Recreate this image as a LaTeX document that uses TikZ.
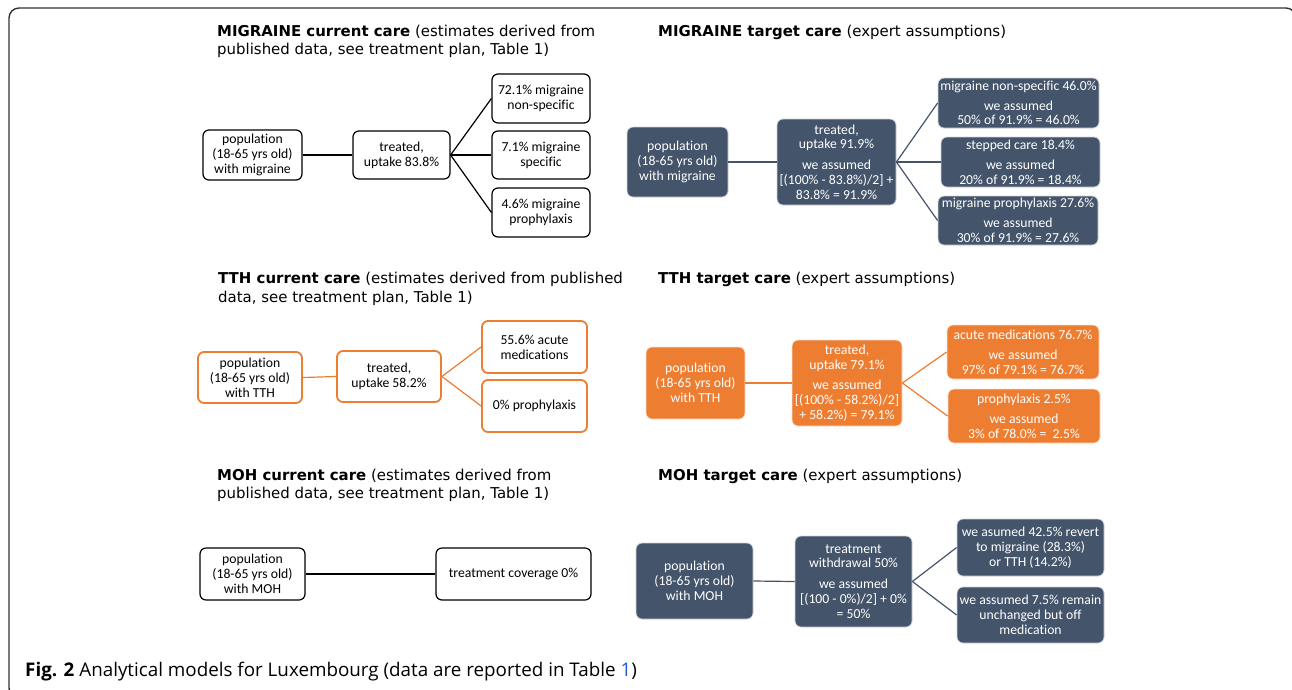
\documentclass[tikz,border=0pt]{standalone}
\usepackage{fontspec}
\setmainfont[Ligatures=NoCommon]{Carlito}
\newfontfamily\ttlfont{DejaVu Sans}
\newfontfamily\capfont{Open Sans}
\definecolor{slate}{HTML}{44546A}
\definecolor{orng}{HTML}{ED7D31}
\definecolor{linkblue}{HTML}{1F5FD6}
\definecolor{framegray}{HTML}{333333}
\tikzset{
  bx/.style={rounded corners=6pt, inner sep=0pt, align=center,
    font=\fontsize{13.7}{14.8}\selectfont},
  cur/.style={bx, draw=black, line width=1.2pt, fill=white},
  curo/.style={bx, draw=orng, line width=1.8pt, fill=white},
  tgt/.style={bx, fill=slate, draw=slate!25, line width=0.8pt, text=white},
  tgto/.style={bx, fill=orng, draw=orng!25, line width=0.8pt, text=white},
  lnk/.style={line width=1.2pt, draw=black},
  lnks/.style={line width=1.2pt, draw=slate},
  lnko/.style={line width=1.2pt, draw=orng},
  ttl/.style={anchor=base west, inner sep=0pt, align=left,
    font=\ttlfont\fontsize{14.95}{18.5}\selectfont},
}
\newcommand\mybox[7]{\node[#6, minimum width={(#4-#2)*1pt}, minimum height={(#5-#3)*1pt}] (#1) at ({(#2+#4)/2},{(#3+#5)/2}) {#7};}
\begin{document}
\begin{tikzpicture}[x=1pt, y=-1pt]
\useasboundingbox (0,0) rectangle (1292,689);
\draw[framegray, line width=1.4pt, rounded corners=10pt] (9,8) rectangle (1296,698);

% titles (base anchor = baseline of last line)
\node[ttl] (t1) at (217,54.5) {\textbf{MIGRAINE current care} (estimates derived from\\published data, see treatment plan, Table 1)};
\node[ttl] (t2) at (658,36) {\textbf{MIGRAINE target care} (expert assumptions)};
\node[ttl] (t3) at (218,302) {\textbf{TTH current care} (estimates derived from published\\data, see treatment plan, Table 1)};
\node[ttl] (t4) at (658,283) {\textbf{TTH target care} (expert assumptions)};
\node[ttl] (t5) at (217,498.5) {\textbf{MOH current care} (estimates derived from\\published data, see treatment plan, Table 1)};
\node[ttl] (t6) at (658,480) {\textbf{MOH target care} (expert assumptions)};

% MIGRAINE current
\mybox{pop1}{203}{130}{302}{180}{cur}{population\\(18-65 yrs old)\\with migraine}
\mybox{trt1}{353}{131}{450}{179}{cur}{treated,\\uptake 83.8\%}
\mybox{a1}{492}{74}{590}{123}{cur}{72.1\% migraine\\non-specific}
\mybox{b1}{492}{131}{590}{179}{cur}{7.1\% migraine\\specific}
\mybox{c1}{492}{188}{590}{237}{cur}{4.6\% migraine\\prophylaxis}
\draw[lnk] (pop1.east) -- (trt1.west);
\draw[lnk] (trt1.east) -- (a1.west);
\draw[lnk] (trt1.east) -- (b1.west);
\draw[lnk] (trt1.east) -- (c1.west);

% MIGRAINE target
\mybox{pop2}{627}{127}{728}{197}{tgt}{population\\(18-65 yrs old)\\with migraine}
\mybox{trt2}{777}{119}{896}{205}{tgt}{treated,\\uptake 91.9\%\\[6pt]we assumed\\{[}(100\% - 83.8\%)/2{]} +\\83.8\% = 91.9\%}
\mybox{a2}{938}{78}{1099}{128}{tgt}{migraine non-specific 46.0\%\\[5pt]we assumed\\50\% of 91.9\% = 46.0\%}
\mybox{b2}{941}{137}{1100}{187}{tgt}{stepped care 18.4\%\\[5pt]we assumed\\20\% of 91.9\% = 18.4\%}
\mybox{c2}{938}{196}{1098}{245}{tgt}{migraine prophylaxis 27.6\%\\[5pt]we assumed\\30\% of 91.9\% = 27.6\%}
\draw[lnks] (pop2.east) -- (trt2.west);
\draw[lnks] (trt2.east) -- (a2.west);
\draw[lnks] (trt2.east) -- (b2.west);
\draw[lnks] (trt2.east) -- (c2.west);

% TTH current
\mybox{pop3}{198}{352}{302}{403}{curo}{population\\(18-65 yrs old)\\with TTH}
\mybox{trt3}{337}{351}{441}{402}{curo}{treated,\\uptake 58.2\%}
\mybox{a3}{482}{321}{587}{373}{curo}{55.6\% acute\\medications}
\mybox{b3}{482}{380}{587}{432}{curo}{0\% prophylaxis}
\draw[lnko] (pop3.east) -- (trt3.west);
\draw[lnko] (trt3.east) -- (a3.west);
\draw[lnko] (trt3.east) -- (b3.west);

% TTH target
\mybox{pop4}{646}{347}{745}{419}{tgto}{population\\(18-65 yrs old)\\with TTH}
\mybox{trt4}{792}{340}{902}{426}{tgto}{treated,\\uptake 79.1\%\\[6pt]we assumed\\{[}(100\% - 58.2\%)/2{]}\\+ 58.2\%) = 79.1\%}
\mybox{a4}{947}{325}{1099}{379}{tgto}{acute medications 76.7\%\\[5pt]we assumed\\97\% of 79.1\% = 76.7\%}
\mybox{b4}{948}{389}{1100}{443}{tgto}{prophylaxis 2.5\%\\[5pt]we assumed\\3\% of 78.0\% = \ 2.5\%}
\draw[lnko] (pop4.east) -- (trt4.west);
\draw[lnko] (trt4.east) -- (a4.west);
\draw[lnko] (trt4.east) -- (b4.west);

% MOH current
\mybox{pop5}{200}{548}{305}{600}{cur}{population\\(18-65 yrs old)\\with MOH}
\mybox{trt5}{436}{548}{591}{600}{cur}{treatment coverage 0\%}
\draw[lnk] (pop5.east) -- (trt5.west);

% MOH target
\mybox{pop6}{636}{543}{753}{619}{tgt}{population\\(18-65 yrs old)\\with MOH}
\mybox{trt6}{795}{536}{912}{627}{tgt}{treatment\\withdrawal 50\%\\[6pt]we assumed\\{[}(100 - 0\%)/2{]} + 0\%\\= 50\%}
\mybox{a6}{957}{519}{1104}{576}{tgt}{we asumed 42.5\% revert\\to migraine (28.3\%)\\or TTH (14.2\%)}
\mybox{b6}{957}{587}{1104}{643}{tgt}{we assumed 7.5\% remain\\unchanged but off\\medication}
\draw[lnks] (pop6.east) -- (trt6.west);
\draw[lnks] (trt6.east) -- (a6.west);
\draw[lnks] (trt6.east) -- (b6.west);

% caption
\node[anchor=base west, inner sep=0pt, font=\capfont\fontsize{18.8}{18.8}\selectfont] (cap) at (25,676.5) {\textbf{Fig. 2} Analytical models for Luxembourg (data are reported in Table \textcolor{linkblue}{1})};
\end{tikzpicture}
\end{document}
